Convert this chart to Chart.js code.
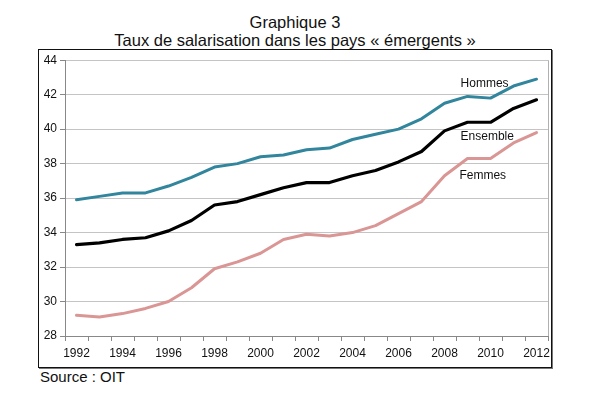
<!DOCTYPE html>
<html>
<head>
<meta charset="utf-8">
<script src="https://cdn.jsdelivr.net/npm/chart.js@4"></script>
<style>
    body { margin:0; background:#fff; font-family:"Liberation Sans", Arial, sans-serif; }
    .page { position:relative; width:590px; height:396px; }
    .title { position:absolute; left:0; width:590px; text-align:center; font-size:16.5px; color:#111; line-height:20px; }
    .box { position:absolute; left:38px; top:49px; width:512px; height:317px; border:1px solid #111; box-shadow:1px 1px 0 #777; }
    .source { position:absolute; left:40px; top:368px; font-size:15px; color:#111; }
</style>
</head>
<body>
<div class="page">
    <div class="title" style="top:12px;">Graphique 3</div>
    <div class="title" style="top:30px;">Taux de salarisation dans les pays « émergents »</div>
    <div class="box"><canvas id="chart" width="512" height="317"></canvas></div>
    <div class="source">Source : OIT</div>
</div>
<script>
// ----- Data -----
const years = ['1992','1993','1994','1995','1996','1997','1998','1999','2000','2001','2002',
               '2003','2004','2005','2006','2007','2008','2009','2010','2011','2012'];
const hommes   = [35.9, 36.1, 36.3, 36.3, 36.7, 37.2, 37.8, 38.0, 38.4, 38.5, 38.8,
                  38.9, 39.4, 39.7, 40.0, 40.6, 41.5, 41.9, 41.8, 42.5, 42.9];
const ensemble = [33.3, 33.4, 33.6, 33.7, 34.1, 34.7, 35.6, 35.8, 36.2, 36.6, 36.9,
                  36.9, 37.3, 37.6, 38.1, 38.7, 39.9, 40.4, 40.4, 41.2, 41.7];
const femmes   = [29.2, 29.1, 29.3, 29.6, 30.0, 30.8, 31.9, 32.3, 32.8, 33.6, 33.9,
                  33.8, 34.0, 34.4, 35.1, 35.8, 37.3, 38.3, 38.3, 39.2, 39.8];
const yTicks = [28, 30, 32, 34, 36, 38, 40, 42, 44];

// ----- Series labels drawn inside the plot -----
const seriesLabels = {
    id: 'seriesLabels',
    afterDatasetsDraw(chart, args, opts) {
        const {ctx, scales:{x, y}} = chart;
        ctx.save();
        ctx.font = '12px "Liberation Sans", Arial, sans-serif';
        ctx.fillStyle = '#111';
        ctx.textBaseline = 'middle';
        ctx.textAlign = 'left';
        opts.items.forEach(it => {
            ctx.fillText(it.text, x.getPixelForValue(it.x), y.getPixelForValue(it.y));
        });
        ctx.restore();
    }
};

// ----- Right edge of plot area -----
const plotEdge = {
    id: 'plotEdge',
    beforeDatasetsDraw(chart) {
        const {ctx, chartArea:a} = chart;
        ctx.save();
        ctx.strokeStyle = '#b0b0b0';
        ctx.lineWidth = 1;
        ctx.beginPath();
        ctx.moveTo(a.right + 0.5, a.top);
        ctx.lineTo(a.right + 0.5, a.bottom);
        ctx.stroke();
        ctx.restore();
    }
};

const ctx = document.getElementById('chart').getContext('2d');
new Chart(ctx, {
    type: 'line',
    data: {
        labels: years,
        datasets: [
            { label:'Hommes', data:hommes, borderColor:'#31859c', borderWidth:3 },
            { label:'Ensemble', data:ensemble, borderColor:'#000000', borderWidth:3.2 },
            { label:'Femmes', data:femmes, borderColor:'#d99694', borderWidth:3 }
        ]
    },
    options: {
        responsive:false,
        animation:false,
        layout:{ padding:{ top:9, right:3, left:0, bottom:0 } },
        elements:{ point:{ radius:0 }, line:{ tension:0, borderCapStyle:'round', borderJoinStyle:'round' } },
        plugins:{
            legend:{ display:false },
            tooltip:{ enabled:false },
            seriesLabels:{ items:[
                { text:'Hommes',   x:16.7, y:42.65 },
                { text:'Ensemble', x:16.7, y:39.55 },
                { text:'Femmes',   x:16.65, y:37.3 }
            ]}
        },
        scales:{
            x:{
                offset:true,
                grid:{ offset:true, drawOnChartArea:false, drawTicks:true, tickLength:5, color:'#888' },
                border:{ color:'#888', width:1 },
                ticks:{
                    autoSkip:false, maxRotation:0, color:'#111', padding:5,
                    font:{ family:'"Liberation Sans", Arial, sans-serif', size:12 },
                    callback:(v, i) => i % 2 === 0 ? years[i] : ''
                },
                afterFit:(s) => { s.height = 31; s.paddingLeft = 0; s.paddingRight = 0; }
            },
            y:{
                min:28, max:44,
                afterBuildTicks:(s) => { s.ticks = yTicks.map(v => ({value:v})); },
                grid:{ color:'#c4c4c4', tickLength:5, drawTicks:true, tickColor:'#888' },
                border:{ color:'#888', width:1 },
                ticks:{
                    color:'#111', padding:3,
                    font:{ family:'"Liberation Sans", Arial, sans-serif', size:12 }
                },
                afterFit:(s) => { s.width = 26; }
            }
        }
    },
    plugins:[seriesLabels, plotEdge]
});
</script>
</body>
</html>
